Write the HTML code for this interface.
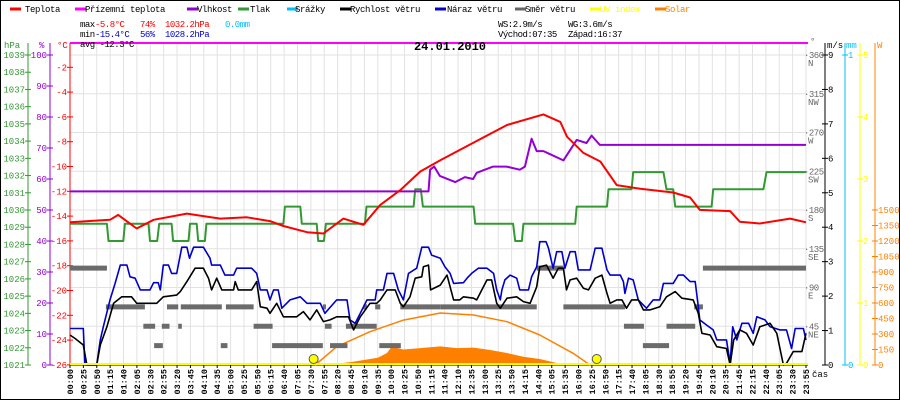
<!DOCTYPE html>
<html><head><meta charset="utf-8"><style>
html,body{margin:0;padding:0;background:#fff;}
#wrap{position:relative;width:900px;height:400px;overflow:hidden;}
svg text{font-family:"Liberation Mono",monospace;}
</style></head><body>
<div id="wrap">
<svg id="chart" width="900" height="400" viewBox="0 0 900 400">
<rect x="0.5" y="0.5" width="899" height="399" fill="#fff" stroke="#000"/>
<g id="legend"></g>
<g id="grid"></g>
<g id="axes"></g>
<g id="series"></g>
<g id="stats"></g>
</svg>
</div>
<script>
// ---- data ----
const xLabels=["00:00","00:25","00:50","01:15","01:40","02:05","02:30","02:55","03:20","03:45","04:10","04:35","05:00","05:25","05:50","06:15","06:40","07:05","07:30","07:55","08:20","08:45","09:10","09:35","10:00","10:25","10:50","11:15","11:40","12:10","12:35","13:00","13:25","13:50","14:15","14:40","15:05","15:35","16:00","16:25","16:50","17:15","17:40","18:05","18:30","18:55","19:20","19:45","20:10","20:35","21:45","22:15","22:40","23:05","23:30","23:55"];
const tempT=[0,78,94,130,163,228,260,293,345,390,416,462,494,533,572,605,644,683,722,786,852,923,956,969,1001,1034,1066,1112,1176,1209,1228,1287,1306,1345,1404,1435];
const tempV=[-14.5,-14.3,-13.9,-15.0,-14.3,-13.8,-14.0,-14.2,-14.1,-14.4,-14.8,-15.3,-15.4,-14.2,-14.7,-13.1,-11.9,-10.4,-9.5,-8.1,-6.65,-5.8,-6.4,-7.6,-8.9,-9.6,-11.5,-11.8,-12.1,-12.5,-13.5,-13.6,-14.45,-14.6,-14.2,-14.5];
const humT=[0,699,702,710,721,751,770,786,793,825,851,877,887,900,910,923,936,962,988,1007,1017,1033,1435];
const humV=[56,56,63,64,61,59,60.6,60,62,64,64,63,64,73,69,69,68,66,72.6,71.6,74,71,71];
const presT=[0,72,75,104,107,153,156,170,174,198,201,231,234,247,250,263,266,416,419,449,452,481,484,495,499,575,578,670,673,684,688,787,790,864,868,881,884,985,988,1047,1050,1095,1098,1157,1163,1176,1180,1251,1254,1352,1358,1435];
const presV=[1029.2,1029.2,1028.2,1028.2,1029.2,1029.2,1028.2,1028.2,1029.2,1029.2,1028.2,1028.2,1029.2,1029.2,1028.2,1028.2,1029.2,1029.2,1030.2,1030.2,1029.2,1029.2,1028.2,1028.2,1029.2,1029.2,1030.2,1030.2,1031.2,1031.2,1030.2,1030.2,1029.2,1029.2,1028.2,1028.2,1029.2,1029.2,1030.2,1030.2,1031.2,1031.2,1032.2,1032.2,1031.2,1031.2,1030.2,1030.2,1031.2,1031.2,1032.2,1032.2];
const windT=[0,10,26,33,52,59,72,85,101,120,130,169,182,208,215,228,244,260,270,276,286,296,319,322,328,354,364,371,384,390,403,416,442,455,468,481,494,507,520,543,553,566,585,598,605,618,634,644,650,663,673,686,689,699,703,722,735,748,760,767,787,793,813,822,832,839,852,871,884,897,910,916,929,942,952,962,968,975,988,1001,1011,1024,1037,1047,1053,1066,1076,1085,1095,1108,1118,1131,1150,1163,1180,1193,1215,1225,1232,1248,1261,1280,1287,1294,1306,1319,1332,1345,1365,1378,1391,1397,1410,1427,1435];
const windV=[0.87,0.77,0.58,0,0,0.58,1.11,1.79,1.98,1.98,1.79,1.79,1.98,2.03,2.13,2.42,2.81,2.81,2.52,2.18,2.52,2.18,2.18,2.42,2.18,2.18,2.42,1.69,1.65,1.50,1.79,1.40,1.40,1.55,1.31,1.60,1.26,1.31,1.40,1.40,1.02,1.40,1.79,1.79,1.89,2.18,2.18,1.79,1.69,1.98,2.52,2.56,2.85,2.90,2.18,2.32,2.61,1.89,1.89,1.98,1.94,1.89,2.47,2.47,1.79,1.65,1.94,1.98,1.84,1.79,2.27,2.85,2.90,2.52,2.81,2.81,2.18,2.47,2.52,2.23,2.18,2.52,2.61,2.08,1.79,1.89,1.89,1.65,1.89,1.89,1.60,1.60,1.69,1.98,2.13,1.94,1.89,1.50,0.92,0.87,0.53,0.48,0,0.73,1.02,0.92,0.58,1.11,1.21,0.92,0,0.05,0.39,0.39,0.92];
const gustT=[0,26,29,52,59,65,78,88,98,111,117,127,137,156,163,172,176,182,192,198,208,218,228,233,241,260,273,276,293,302,319,325,354,364,371,384,390,397,406,413,429,449,462,488,497,520,540,546,556,566,579,595,598,611,618,631,640,650,660,676,686,699,705,722,731,741,748,767,774,783,796,813,826,832,839,842,848,858,871,877,894,900,910,916,928,933,942,949,959,965,975,985,991,1014,1024,1037,1047,1053,1073,1079,1082,1089,1098,1108,1124,1137,1150,1157,1176,1186,1196,1209,1219,1225,1228,1241,1254,1261,1280,1287,1292,1300,1310,1323,1332,1339,1355,1365,1384,1397,1407,1414,1430,1435];
const gustV=[1.06,1.06,0,0,0.73,1.11,1.89,2.37,2.90,2.90,2.56,2.52,2.18,2.18,2.39,2.39,2.18,2.90,2.90,2.66,2.66,3.42,3.42,3.10,3.42,3.42,3.10,2.90,2.90,2.61,2.61,2.81,2.81,2.66,2.18,2.18,1.89,2.18,2.18,1.65,1.89,1.98,1.79,1.79,1.50,1.89,1.89,1.31,1.21,1.50,1.89,1.89,2.18,2.18,2.66,2.66,2.18,1.89,2.66,2.81,3.42,3.42,3.19,3.10,2.85,2.66,2.37,2.39,2.52,2.66,2.81,2.81,2.66,2.18,1.89,2.18,2.47,2.61,2.52,2.18,2.18,2.56,2.85,3.58,3.58,3.39,2.81,3.29,3.29,2.81,3.29,3.29,2.76,2.76,3.39,3.39,2.76,2.61,2.61,2.42,2.08,2.52,2.47,1.89,1.65,1.89,1.89,2.37,2.37,2.61,2.61,2.42,2.42,1.69,1.31,1.16,1.02,0.73,0.73,0.05,1.11,0.73,1.21,1.21,0.92,1.40,1.31,1.11,1.02,1.02,0.48,1.06,1.06,0.73];
const dirStart=[0,910,1234,70,189,216,304,493,572,595,644,722,962,1217,143,179,211,358,497,538,1080,1163,164,294,394,507,603,1117];
const dirEnd=[72,962,1440,146,211,296,358,499,579,605,722,910,1082,1234,166,194,218,395,510,598,1119,1219,181,307,493,541,645,1168];
const dirVal=[112.5,112.5,112.5,67.5,67.5,67.5,67.5,67.5,67.5,67.5,67.5,67.5,67.5,67.5,45,45,45,45,45,45,45,45,22.5,22.5,22.5,22.5,22.5,22.5];
const solarCurveT=[478,520,585,650,722,787,852,916,981,1014];
const solarCurveV=[0,177,322,435,503,484,419,290,113,0];
const solarT=[500,552,600,618,627,650,683,722,754,787,819,852,884,916,949,975];
const solarV=[0,32,70,116,177,150,164,180,164,168,145,116,80,58,19,0];
const sunT=[475,1027];
const tempTicks=[-2,-4,-6,-8,-10,-12,-14,-16,-18,-20,-22,-24,-26];
const presTicks=[1021,1022,1023,1024,1025,1026,1027,1028,1029,1030,1031,1032,1033,1034,1035,1036,1037,1038,1039];
const humTicks=[0,10,20,30,40,50,60,70,80,90,100];
const dirTicks=[45,90,135,180,225,270,315,360];
const dirNames=["NE","E","SE","S","SW","W","NW","N"];
const msTicks=[0,1,2,3,4,5,6,7,8,9];
const uvTicks=[0,1,2,3,4,5];
const wTicks=[0,150,300,450,600,750,900,1050,1200,1350,1500];

// ---- scales ----
const X0=70,X1=806,YB=365,YT=55;
const xs=t=>X0+t/1435*(X1-X0);
const yT=v=>42.5-v*12.4;
const yP=v=>YB-(v-1021)*(YB-YT)/18;
const yH=v=>YB-v*(YB-YT)/100;
const yD=v=>YB-v*(YB-YT)/360;
const yM=v=>YB-v*(YB-YT)/9;
const yU=v=>YB-v*(YB-YT)/5;
const yW=v=>YB-v*(YB-210)/1500;
const NS="http://www.w3.org/2000/svg";
function mk(tag,attrs,parent){const e=document.createElementNS(NS,tag);for(const k in attrs)e.setAttribute(k,attrs[k]);parent.appendChild(e);return e;}
function txt(s,x,y,attrs,parent){const e=mk('text',Object.assign({x:x,y:y,'font-size':9},attrs),parent);e.textContent=s;return e;}
const G=document.getElementById('grid'),A=document.getElementById('axes'),S=document.getElementById('series'),L=document.getElementById('legend'),ST=document.getElementById('stats');

// grid
const colStep=(X1-X0)/(xLabels.length-1);
for(let i=0;i<xLabels.length;i++){const x=X0+i*colStep;const l=mk('line',{x1:x,x2:x,y1:43,y2:YB,stroke:'#e2e2e2'},G);

}
for(let k=0;k<8;k++){const y=YT+k*(YB-YT)/8;const l=mk('line',{x1:X0,x2:X1,y1:y,y2:y,stroke:'#e2e2e2'},G);

}

// legend
const legItems=[["Teplota","#f00",5,25],["Přízemní teplota","#f0f",70,85],["Vlhkost","#9400d3",182,197],["Tlak","#339933",233,250],["Srážky","#00bfff",282,295],["Rychlost větru","#000",335,350],["Náraz větru","#0000cc",430,447],["Směr větru","#666",510,525],["UV index","#ffff00",585,600],["Solar","#ff8000",650,665]];
legItems.forEach(it=>{const g=mk('g',{},L);


mk('line',{x1:it[2]+5,x2:it[2]+16,y1:9,y2:9,stroke:it[1],'stroke-width':3},g);
txt(it[0],it[3],12,{fill:it[0]==='UV index'||it[0]==='Solar'?it[1]:'#000','letter-spacing':'-0.4'},g);});

// stats
function st(s,x,y,c,name){const e=txt(s,x,y,{fill:c,'letter-spacing':'-0.5'},ST);

}
st("max",80,27,'#000','max-label');st("-5.8°C",95,27,'#f00','max-temp');st("74%",140,27,'#f00','max-humidity');st("1032.2hPa",165,27,'#f00','max-pressure');st("0.0mm",225,27,'#00bfff','rain-total');
st("min",80,37,'#000','min-label');st("-15.4°C",95,37,'#00c','min-temp');st("56%",140,37,'#00c','min-humidity');st("1028.2hPa",165,37,'#00c','min-pressure');
st("avg -12.3°C",80,47,'#000','avg-temp');
st("WS:2.9m/s",498,27,'#000','avg-wind-speed');st("WG:3.6m/s",568,27,'#000','avg-wind-gust');
st("Východ:07:35",498,37,'#000','sunrise');st("Západ:16:37",568,37,'#000','sunset');
const dt=txt("24.01.2010",450,50,{'font-size':12,'font-weight':'bold','text-anchor':'middle',fill:'#000'},ST);



// axes
function vaxis(x,color,ticks,yf,fmt,side,name,hdr,hx){const g=mk('g',{},A);


mk('line',{x1:x,x2:x,y1:43,y2:YB,stroke:color},g);
ticks.forEach(v=>{const y=yf(v);mk('line',{x1:x-3,x2:x+3,y1:y,y2:y,stroke:color},g);
if(side==='l')txt(fmt(v),x-3,y+3,{'text-anchor':'end',fill:color},g);else txt(fmt(v),x+3,y+3,{fill:color},g);});
txt(hdr,hx,48,{fill:color},g);}
vaxis(28,'#339933',presTicks,yP,v=>String(v),'l','pressure-axis','hPa',4);
vaxis(50,'#9400d3',humTicks,yH,v=>String(v),'l','humidity-axis','%',39);
vaxis(70,'#f00',tempTicks,yT,v=>String(v),'l','temperature-axis','°C',57);
vaxis(825,'#000',msTicks,yM,v=>String(v),'r','wind-speed-axis','m/s',827);
{const g=mk('g',{},A);


mk('line',{x1:845,x2:845,y1:43,y2:YB,stroke:'#00bfff'},g);
[[0,YB],[1,YT]].forEach(p=>{mk('line',{x1:842,x2:848,y1:p[1],y2:p[1],stroke:'#00bfff'},g);txt(String(p[0]),848,p[1]+3,{fill:'#00bfff'},g);});
txt('mm',846,48,{fill:'#00bfff'},g);}
vaxis(860,'#ffff00',uvTicks,yU,v=>String(v),'r','uv-axis','',862);
{const g=mk('g',{},A);


mk('line',{x1:875,x2:875,y1:43,y2:YB,stroke:'#ff8000'},g);
wTicks.forEach(v=>{const y=yW(v);mk('line',{x1:872,x2:878,y1:y,y2:y,stroke:'#ff8000'},g);txt(String(v),878,y+3,{fill:'#ff8000'},g);});
txt('W',877,48,{fill:'#ff8000'},g);}
{const g=mk('g',{},A);


dirTicks.forEach((v,i)=>{const y=yD(v);txt('·'+v,804,y+3,{fill:'#666','letter-spacing':'-0.5'},g);txt(dirNames[i],808,y+11,{fill:'#666'},g);});
txt('°',810,44,{fill:'#666'},g);}
// x axis
{const g=mk('g',{},A);


mk('line',{x1:X0,x2:X1+2,y1:YB,y2:YB,stroke:'#000'},g);
xLabels.forEach((s,i)=>{const x=X0+i*colStep;mk('line',{x1:x,x2:x,y1:YB,y2:YB+3,stroke:'#000'},g);
const t=txt(s,0,0,{'text-anchor':'end',fill:'#000','font-weight':'bold','font-size':8.5,transform:`translate(${x+3},369) rotate(-90)`},g);

});
txt('čas',812,377,{fill:'#000'},g);}

// series
function poly(T,V,yf,color,w,name){const pts=T.map((t,i)=>xs(t).toFixed(1)+','+yf(V[i]).toFixed(1)).join(' ');
const p=mk('polyline',{points:pts,fill:'none',stroke:color,'stroke-width':w,'stroke-linejoin':'round'},S);

return p;}
// solar fill
{const pts=[xs(solarT[0])+','+YB].concat(solarT.map((t,i)=>xs(t).toFixed(1)+','+yW(solarV[i]).toFixed(1))).concat([xs(solarT[solarT.length-1])+','+YB]).join(' ');
const p=mk('polygon',{points:pts,fill:'#ff8000'},S);

}
poly(solarCurveT,solarCurveV,yW,'#ff8000',1.5,'solar-theoretical-line');
// wind direction
dirVal.forEach((v,i)=>{const r=mk('rect',{x:xs(dirStart[i]),y:yD(v)-2.5,width:Math.max(2,xs(Math.min(dirEnd[i],1435))-xs(dirStart[i])),height:5,fill:'#6b6b6b'},S);

});
poly(presT,presV,yP,'#339933',2,'pressure-line');
poly(humT,humV,yH,'#9400d3',2,'humidity-line');
poly(tempT,tempV,yT,'#f00',2,'temperature-line');
poly(gustT,gustV,yM,'#0000cc',1.6,'wind-gust-line');
poly(windT,windV,yM,'#000',1.6,'wind-speed-line');
{const l=mk('line',{x1:X0,x2:X1+2,y1:43,y2:43,stroke:'#f0f','stroke-width':2},S);


const u=mk('line',{x1:X0,x2:X1+2,y1:YB-1,y2:YB-1,stroke:'#ffff00','stroke-width':2},S);

}
sunT.forEach(t=>{const c=mk('circle',{cx:xs(t),cy:359,r:4.5,fill:'#ffff00',stroke:'#555','stroke-width':1},S);

});
</script>
</body></html>
